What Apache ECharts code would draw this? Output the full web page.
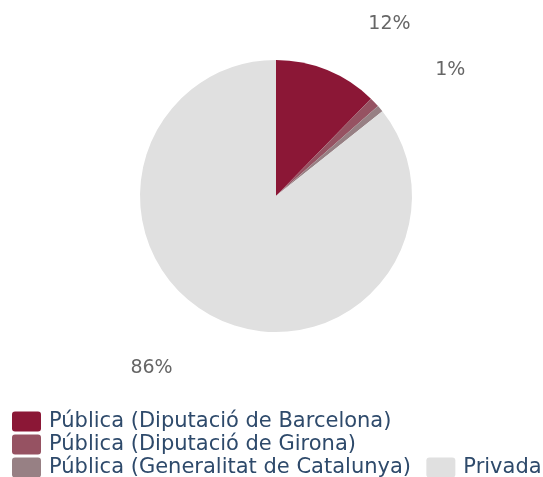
<!DOCTYPE html>
<html>
<head>
<meta charset="utf-8">
<script src="https://cdn.jsdelivr.net/npm/echarts@6/dist/echarts.min.js"></script>
<style>
  html, body { margin: 0; padding: 0; background: #fff; }
  #chart { width: 543px; height: 477px; }
</style>
</head>
<body>
<div id="chart"></div>
<script>
const categories = [
  'Pública (Diputació de Barcelona)',
  'Pública (Diputació de Girona)',
  'Pública (Generalitat de Catalunya)',
  'Privada'
]
const values = [12.3, 1.2, 0.8, 85.7]
const colors = ['#8b1736', '#965262', '#978084', '#e0e0e0']
const hiddenLabels = ['Pública (Generalitat de Catalunya)']

const chart = echarts.init(document.getElementById('chart'))

const legendFont = {
  fontFamily: 'DejaVu Sans',
  fontSize: 21,
  color: '#2e4a6b',
}

const option = {
  animation: false,
  color: colors,
  legend: {
    left: 7,
    top: 406,
    width: 580,
    itemWidth: 29,
    itemHeight: 20,
    itemGap: 2,
    icon: 'path://M3,0 L26,0 Q29,0 29,3 L29,17 Q29,20 26,20 L3,20 Q0,20 0,17 L0,3 Q0,0 3,0 Z',
    formatter: (name) => '{p| }{n|' + name + '}{s|  }',
    textStyle: {
      ...legendFont,
      rich: {
        p: { width: 3, fontSize: 21 },
        n: legendFont,
        s: { fontSize: 21 },
      },
    },
    data: categories,
  },
  series: [
    {
      type: 'pie',
      center: [276, 196],
      radius: [0, 136],
      startAngle: 90,
      clockwise: true,
      percentPrecision: 0,
      label: {
        show: true,
        position: 'outside',
        formatter: '{d}%',
        fontFamily: 'DejaVu Sans',
        fontSize: 19,
        color: '#666',
      },
      labelLine: {
        show: false,
        length: 56,
        length2: 15,
      },
      labelLayout: (params) => (params.labelRect.x > 276 ? { dy: 6 } : { dy: -1 }),
      data: categories.map((name, i) => ({
        name: name,
        value: values[i],
        label: { show: !hiddenLabels.includes(name) },
      })),
    },
  ],
}

chart.setOption(option)
</script>
</body>
</html>
